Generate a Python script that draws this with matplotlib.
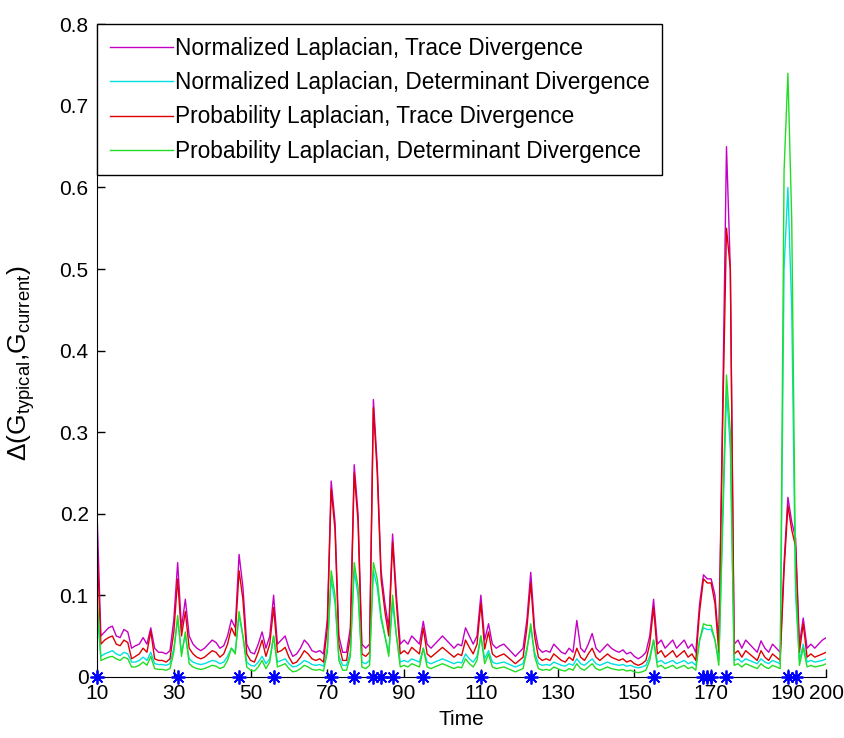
import matplotlib
matplotlib.use("Agg")
import matplotlib.pyplot as plt
import numpy as np

plt.rcParams['font.family'] = ['Liberation Sans', 'DejaVu Sans']
plt.rcParams['mathtext.default'] = 'regular'

# time axis, one value per step
time = list(range(10, 201))

# Normalized Laplacian, Trace Divergence
norm_trace = [
    0.20, 0.05, 0.055, 0.06, 0.062, 0.05, 0.048, 0.058, 0.055, 0.035,
    0.038, 0.04, 0.048, 0.04, 0.06, 0.035, 0.03, 0.03, 0.028, 0.032,
    0.07, 0.14, 0.06, 0.095, 0.05, 0.04, 0.035, 0.032, 0.035, 0.04,
    0.045, 0.042, 0.035, 0.038, 0.05, 0.07, 0.06, 0.15, 0.11, 0.04,
    0.03, 0.028, 0.04, 0.055, 0.035, 0.05, 0.10, 0.04, 0.045, 0.05,
    0.035, 0.025, 0.028, 0.035, 0.045, 0.04, 0.032, 0.03, 0.032, 0.028,
    0.07, 0.24, 0.19, 0.05, 0.03, 0.03, 0.06, 0.26, 0.2, 0.04,
    0.035, 0.04, 0.34, 0.26, 0.13, 0.09, 0.06, 0.175, 0.1, 0.04,
    0.045, 0.04, 0.05, 0.045, 0.04, 0.068, 0.04, 0.035, 0.04, 0.045,
    0.05, 0.045, 0.04, 0.035, 0.04, 0.038, 0.06, 0.05, 0.04, 0.05,
    0.10, 0.045, 0.065, 0.04, 0.035, 0.038, 0.04, 0.035, 0.03, 0.025,
    0.03, 0.035, 0.07, 0.128, 0.06, 0.035, 0.03, 0.032, 0.03, 0.04,
    0.035, 0.03, 0.028, 0.035, 0.03, 0.069, 0.035, 0.03, 0.04, 0.053,
    0.035, 0.03, 0.035, 0.04, 0.035, 0.032, 0.03, 0.033, 0.028, 0.03,
    0.025, 0.022, 0.025, 0.03, 0.05, 0.095, 0.04, 0.045, 0.035, 0.04,
    0.045, 0.035, 0.04, 0.045, 0.035, 0.04, 0.03, 0.09, 0.125, 0.12,
    0.12, 0.1, 0.04, 0.33, 0.65, 0.5, 0.04, 0.045, 0.035, 0.045,
    0.04, 0.035, 0.03, 0.044, 0.035, 0.03, 0.04, 0.035, 0.03, 0.14,
    0.22, 0.19, 0.17, 0.04, 0.072, 0.035, 0.04, 0.035, 0.04, 0.045,
    0.048]

# Normalized Laplacian, Determinant Divergence
norm_det = [
    0.08, 0.025, 0.028, 0.03, 0.032, 0.028, 0.026, 0.03, 0.028, 0.018,
    0.018, 0.02, 0.024, 0.02, 0.03, 0.016, 0.015, 0.015, 0.014, 0.016,
    0.035, 0.07, 0.03, 0.05, 0.022, 0.018, 0.016, 0.015, 0.016, 0.018,
    0.02, 0.019, 0.016, 0.018, 0.025, 0.035, 0.03, 0.075, 0.05, 0.018,
    0.014, 0.013, 0.018, 0.025, 0.016, 0.022, 0.05, 0.018, 0.02, 0.022,
    0.016, 0.012, 0.013, 0.016, 0.02, 0.018, 0.015, 0.014, 0.015, 0.013,
    0.035, 0.12, 0.09, 0.025, 0.014, 0.014, 0.03, 0.13, 0.1, 0.018,
    0.016, 0.02, 0.13, 0.11, 0.07, 0.05, 0.03, 0.09, 0.05, 0.018,
    0.02, 0.018, 0.022, 0.02, 0.018, 0.035, 0.018, 0.016, 0.018, 0.02,
    0.022, 0.02, 0.018, 0.016, 0.018, 0.017, 0.028, 0.022, 0.018, 0.025,
    0.05, 0.022, 0.032, 0.018, 0.016, 0.017, 0.018, 0.016, 0.014, 0.012,
    0.014, 0.016, 0.035, 0.06, 0.03, 0.016, 0.014, 0.015, 0.014, 0.018,
    0.016, 0.014, 0.013, 0.016, 0.014, 0.022, 0.016, 0.014, 0.018, 0.022,
    0.016, 0.014, 0.016, 0.018, 0.016, 0.015, 0.014, 0.015, 0.013, 0.014,
    0.012, 0.011, 0.012, 0.014, 0.025, 0.045, 0.018, 0.02, 0.016, 0.018,
    0.02, 0.016, 0.018, 0.02, 0.016, 0.018, 0.014, 0.045, 0.06, 0.058,
    0.058, 0.045, 0.02, 0.18, 0.35, 0.28, 0.02, 0.022, 0.018, 0.022,
    0.02, 0.018, 0.016, 0.022, 0.018, 0.016, 0.02, 0.018, 0.016, 0.5,
    0.6, 0.45, 0.1, 0.02, 0.04, 0.018, 0.02, 0.018, 0.019, 0.02,
    0.022]

# Probability Laplacian, Trace Divergence
prob_trace = [
    0.16, 0.04, 0.045, 0.048, 0.05, 0.04, 0.038, 0.045, 0.042, 0.022,
    0.025, 0.028, 0.035, 0.03, 0.056, 0.022, 0.02, 0.02, 0.018, 0.022,
    0.055, 0.12, 0.05, 0.08, 0.035, 0.028, 0.024, 0.022, 0.024, 0.028,
    0.032, 0.03, 0.024, 0.028, 0.04, 0.06, 0.05, 0.13, 0.095, 0.028,
    0.02, 0.018, 0.03, 0.045, 0.025, 0.04, 0.085, 0.03, 0.032, 0.036,
    0.024, 0.016, 0.018, 0.024, 0.032, 0.028, 0.022, 0.02, 0.022, 0.018,
    0.06, 0.23, 0.18, 0.04, 0.02, 0.02, 0.05, 0.25, 0.19, 0.028,
    0.025, 0.03, 0.33, 0.25, 0.12, 0.08, 0.05, 0.165, 0.09, 0.028,
    0.032, 0.028, 0.036, 0.032, 0.028, 0.06, 0.028, 0.024, 0.028, 0.032,
    0.036, 0.032, 0.028, 0.024, 0.028, 0.026, 0.045, 0.036, 0.028, 0.04,
    0.09, 0.034, 0.055, 0.028, 0.024, 0.026, 0.028, 0.024, 0.02, 0.016,
    0.02, 0.024, 0.06, 0.115, 0.05, 0.024, 0.02, 0.022, 0.02, 0.028,
    0.024, 0.02, 0.018, 0.024, 0.02, 0.035, 0.024, 0.02, 0.028, 0.035,
    0.024, 0.02, 0.024, 0.028, 0.024, 0.022, 0.02, 0.022, 0.018, 0.02,
    0.016, 0.014, 0.016, 0.02, 0.04, 0.085, 0.028, 0.032, 0.024, 0.028,
    0.032, 0.024, 0.028, 0.032, 0.024, 0.028, 0.02, 0.08, 0.12, 0.115,
    0.115, 0.09, 0.03, 0.31, 0.55, 0.5, 0.028, 0.032, 0.024, 0.032,
    0.028, 0.024, 0.02, 0.032, 0.024, 0.02, 0.028, 0.024, 0.02, 0.13,
    0.21, 0.18, 0.16, 0.03, 0.065, 0.024, 0.028, 0.024, 0.026, 0.028,
    0.03]

# Probability Laplacian, Determinant Divergence
prob_det = [
    0.1, 0.02, 0.022, 0.024, 0.025, 0.022, 0.02, 0.024, 0.022, 0.012,
    0.012, 0.014, 0.018, 0.014, 0.025, 0.01, 0.009, 0.009, 0.008, 0.01,
    0.03, 0.075, 0.025, 0.055, 0.016, 0.012, 0.01, 0.009, 0.01, 0.012,
    0.014, 0.013, 0.01, 0.012, 0.02, 0.035, 0.028, 0.08, 0.05, 0.012,
    0.008, 0.007, 0.012, 0.02, 0.01, 0.018, 0.05, 0.012, 0.014, 0.016,
    0.01, 0.006, 0.007, 0.01, 0.014, 0.012, 0.009, 0.008, 0.009, 0.007,
    0.03, 0.13, 0.1, 0.02, 0.008, 0.008, 0.025, 0.14, 0.11, 0.012,
    0.01, 0.014, 0.14, 0.12, 0.075, 0.05, 0.025, 0.1, 0.05, 0.012,
    0.014, 0.012, 0.016, 0.014, 0.012, 0.035, 0.012, 0.01, 0.012, 0.014,
    0.016, 0.014, 0.012, 0.01, 0.012, 0.011, 0.022, 0.016, 0.012, 0.02,
    0.05, 0.016, 0.028, 0.012, 0.01, 0.011, 0.012, 0.01, 0.008, 0.006,
    0.008, 0.01, 0.032, 0.065, 0.025, 0.01, 0.008, 0.009, 0.008, 0.012,
    0.01, 0.008, 0.007, 0.01, 0.008, 0.016, 0.01, 0.008, 0.012, 0.016,
    0.01, 0.008, 0.01, 0.012, 0.01, 0.009, 0.008, 0.009, 0.007, 0.008,
    0.006, 0.005, 0.006, 0.008, 0.02, 0.045, 0.012, 0.014, 0.01, 0.012,
    0.014, 0.01, 0.012, 0.014, 0.01, 0.012, 0.008, 0.045, 0.065, 0.063,
    0.063, 0.045, 0.014, 0.2, 0.37, 0.3, 0.014, 0.016, 0.012, 0.016,
    0.014, 0.012, 0.01, 0.016, 0.012, 0.01, 0.014, 0.012, 0.01, 0.62,
    0.74, 0.56, 0.12, 0.014, 0.035, 0.012, 0.014, 0.012, 0.013, 0.014,
    0.016]

# detected change points, drawn on the time axis
events = [10, 31, 47, 56, 71, 77, 82, 84, 87, 95, 110, 123, 155,
          168, 169, 170, 174, 190, 192]

labels = ["Normalized Laplacian, Trace Divergence",
          "Normalized Laplacian, Determinant Divergence",
          "Probability Laplacian, Trace Divergence",
          "Probability Laplacian, Determinant Divergence"]

xticks = [10, 30, 50, 70, 90, 110, 130, 150, 170, 190, 200]
yticks = [0, 0.1, 0.2, 0.3, 0.4, 0.5, 0.6, 0.7, 0.8]

fig = plt.figure(figsize=(8.44, 7.38), dpi=100)
ax = fig.add_axes([0.115, 0.083, 0.864, 0.884])

ax.plot(time, norm_trace, color='#c400c4', lw=1, label=labels[0])
ax.plot(time, norm_det, color='#00e0e0', lw=1, label=labels[1])
ax.plot(time, prob_trace, color='#dd0000', lw=1, label=labels[2])
ax.plot(time, prob_det, color='#22dd22', lw=1, label=labels[3])
ax.plot(events, np.zeros(len(events)), marker=(8, 2, 0), ls='none',
        color='#0000ff', mec='#0000ff', ms=10, mew=1.3,
        clip_on=False, zorder=5)

ax.set_xlim(10, 200)
ax.set_ylim(0, 0.8)
ax.set_xticks(xticks)
ax.set_xticklabels([str(v) for v in xticks])
ax.set_yticks(yticks)
ax.set_yticklabels(['0', '0.1', '0.2', '0.3', '0.4', '0.5', '0.6', '0.7', '0.8'])
ax.tick_params(direction='in', length=6, labelsize=15, width=1)
ax.tick_params(axis='x', pad=5)
ax.tick_params(axis='y', pad=6)
ax.spines['top'].set_visible(False)
ax.spines['right'].set_visible(False)

ax.set_xlabel("Time", fontsize=15, labelpad=5)
ax.set_ylabel(r"$\Delta$(G$_{typical}$,G$_{current}$)", fontsize=19)
ax.yaxis.set_label_coords(-0.082, 0.48)

leg = ax.legend(loc='upper left', fontsize=16.3, handlelength=2.8,
                borderaxespad=0, fancybox=False, framealpha=1,
                edgecolor='black', borderpad=0.55, labelspacing=0.5,
                handletextpad=0.1)
leg.get_frame().set_linewidth(1)

fig.savefig("out.png", dpi=100)
